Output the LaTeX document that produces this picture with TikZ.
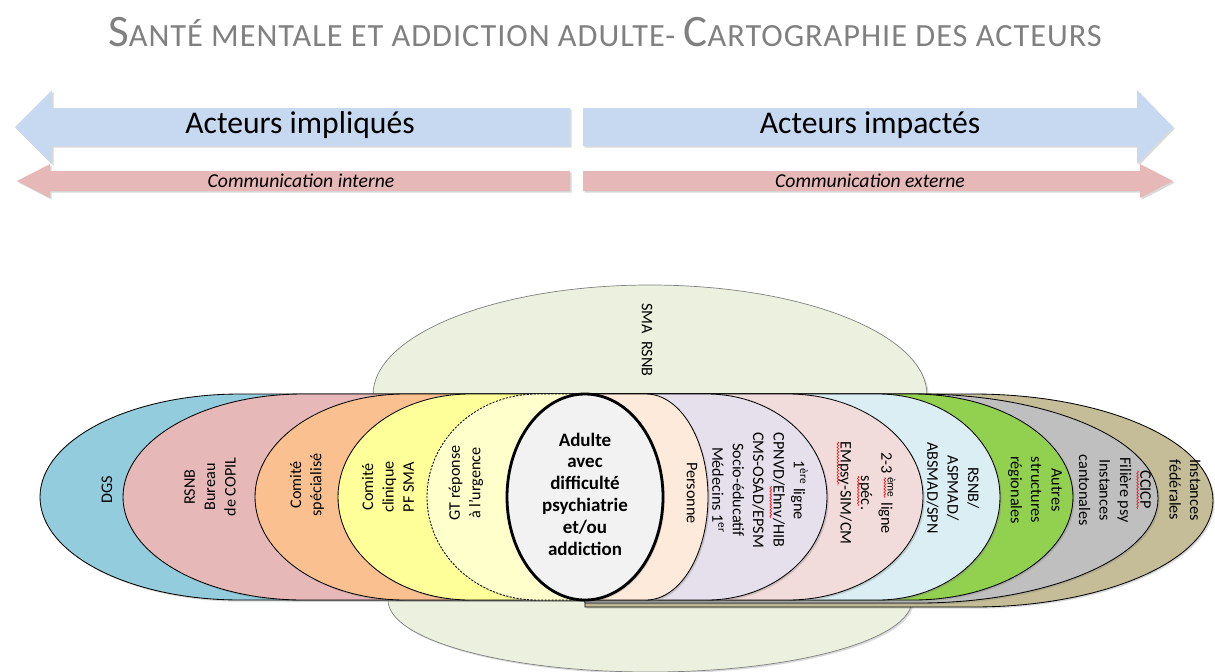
\documentclass[tikz,border=0pt]{standalone}
\usepackage{fontspec}
\setmainfont{Carlito}
\usetikzlibrary{shadows,decorations.pathmorphing}

\definecolor{titregris}{HTML}{808080}
\definecolor{flechebleu}{HTML}{C6D9F1}
\definecolor{flecherose}{HTML}{E6B9B8}
\definecolor{cDGS}{HTML}{93CDDD}
\definecolor{cRSNB}{HTML}{E6B9B8}
\definecolor{cSpec}{HTML}{FAC090}
\definecolor{cClin}{HTML}{FFFF99}
\definecolor{cGT}{HTML}{FFFFCC}
\definecolor{cAdulte}{HTML}{F2F2F2}
\definecolor{cPers}{HTML}{FDEADA}
\definecolor{cPrem}{HTML}{E5E0EC}
\definecolor{cDeux}{HTML}{F2DCDB}
\definecolor{cReseau}{HTML}{DBEEF4}
\definecolor{cAutres}{HTML}{92D050}
\definecolor{cCant}{HTML}{BFBFBF}
\definecolor{cFed}{HTML}{C4BD97}
\definecolor{cSMA}{HTML}{EBF1DE}

\newcommand{\grandcap}[1]{{\fontsize{32}{32}\selectfont #1}}
\newcommand{\petitcap}[1]{{\fontsize{23}{23}\selectfont #1}}
% soulignement rouge du correcteur
\newsavebox{\motfaux}
\newcommand{\fauteortho}[1]{\sbox{\motfaux}{#1}\rlap{\usebox{\motfaux}}%
  \tikz[reset cm,x=1pt,y=1pt,baseline=0pt]\draw[red,line width=0.4pt,decorate,decoration={snake,amplitude=0.6pt,segment length=2.2pt}] (0,-2) -- (\wd\motfaux,-2);}

\begin{document}
\begin{tikzpicture}[x=0.025cm,y=-0.025cm]
        \tikzstyle{ombre}=[drop shadow={shadow xshift=1.2pt,shadow yshift=-1.2pt,opacity=.3}]
        \tikzstyle{zone}=[draw=black,line width=0.6pt,ombre]
        \tikzstyle{gauche}=[rotate=90,align=center,font=\fontsize{11.5}{14.5}\selectfont]
        \tikzstyle{droite}=[rotate=-90,align=center,font=\fontsize{11.5}{14.5}\selectfont]
        \tikzstyle{fleche}=[ombre]
          \useasboundingbox (0,0) rectangle (1215,671);

          % titre
          \node[text=titregris,font=\addfontfeatures{LetterSpace=3}] (titre) at (605,32)
            {\grandcap{S}\petitcap{ANTÉ MENTALE ET ADDICTION ADULTE- }\grandcap{C}\petitcap{ARTOGRAPHIE DES ACTEURS}};

          % fleches du haut
          \fill[flechebleu,fleche] (570,108) -- (52,108) -- (52,90) -- (15,127) -- (52,164) -- (52,146) -- (570,146) -- cycle;
          \fill[flechebleu,fleche] (583,108) -- (1137,108) -- (1137,90) -- (1173,127) -- (1137,164) -- (1137,146) -- (583,146) -- cycle;
          \fill[flecherose,fleche] (570,171) -- (50,171) -- (50,164) -- (17,181) -- (50,198) -- (50,191) -- (570,191) -- cycle;
          \fill[flecherose,fleche] (583,171) -- (1140,171) -- (1140,164) -- (1173,181) -- (1140,198) -- (1140,191) -- (583,191) -- cycle;
          \node[font=\fontsize{22.5}{24}\selectfont] (impliques) at (300,125) {Acteurs impliqués};
          \node[font=\fontsize{22.5}{24}\selectfont] (impactes) at (870,125) {Acteurs impactés};
          \node[font=\fontsize{14}{16}\selectfont\itshape] (interne) at (301,181) {Communication interne};
          \node[font=\fontsize{14}{16}\selectfont\itshape] (externe) at (870,181) {Communication externe};

          % SMA RSNB au fond
          \draw[fill=cSMA,draw=gray,line width=0.5pt,ombre] (373,395) arc[start angle=180,end angle=360,x radius=277,y radius=110]
            -- (912,600) arc[start angle=0,end angle=180,x radius=262,y radius=72] -- cycle;
          \node[rotate=-90,font=\fontsize{11.5}{14}\selectfont] (sma) at (647,340) {SMA\ \ RSNB};

          % acteurs impliques (a gauche)
          \draw[zone,fill=cDGS] (585,394) -- (240,394) arc[start angle=270,end angle=90,x radius=200,y radius=103] -- (585,600) -- cycle;
          \draw[zone,fill=cRSNB] (585,394) -- (303,394) arc[start angle=270,end angle=90,x radius=180,y radius=103] -- (585,600) -- cycle;
          \draw[zone,fill=cSpec] (585,394) -- (405,394) arc[start angle=270,end angle=90,x radius=150,y radius=103] -- (585,600) -- cycle;
          \draw[zone,fill=cClin] (585,394) -- (470,394) arc[start angle=270,end angle=90,x radius=132,y radius=103] -- (585,600) -- cycle;
          \draw[zone,fill=cGT,dash pattern=on 1.5pt off 1pt] (585,394) -- (537,394) arc[start angle=270,end angle=90,x radius=110,y radius=103] -- (585,600) -- cycle;

          % acteurs impactes (a droite)
          \draw[zone,fill=cFed] (585,394) -- (973,394) arc[start angle=-90,end angle=90,x radius=240,y radius=106.5] -- (585,607) -- cycle;
          \draw[zone,fill=cCant] (585,394) -- (918,394) arc[start angle=-90,end angle=90,x radius=240,y radius=104.5] -- (585,603) -- cycle;
          \draw[zone,fill=cAutres] (585,394) -- (913,394) arc[start angle=-90,end angle=90,x radius=160,y radius=103] -- (585,600) -- cycle;
          \draw[zone,fill=cReseau] (585,394) -- (878,394) arc[start angle=-90,end angle=90,x radius=122,y radius=103] -- (585,600) -- cycle;
          \draw[zone,fill=cDeux] (585,394) -- (788,394) arc[start angle=-90,end angle=90,x radius=135,y radius=103] -- (585,600) -- cycle;
          \draw[zone,fill=cPrem] (585,394) -- (707,394) arc[start angle=-90,end angle=90,x radius=120,y radius=103] -- (585,600) -- cycle;
          \draw[zone,fill=cPers] (585,394) -- (646,394) arc[start angle=-90,end angle=90,x radius=62,y radius=103] -- (585,600) -- cycle;

          % au centre
          \draw[fill=cAdulte,draw=black,line width=2pt,ombre] (585,497) ellipse[x radius=78,y radius=103];
          \node[align=center,font=\fontsize{13.5}{15.5}\selectfont\bfseries] (adulte) at (585,494)
            {Adulte\\avec\\difficulté\\psychiatrie\\et/ou\\addiction};

          % textes
          \node[gauche] (dgs) at (107,490) {DGS};
          \node[gauche] (rsnb) at (210,487) {RSNB\\Bureau\\de COPIL};
          \node[gauche] (specialise) at (307,485) {Comité\\spécialisé};
          \node[gauche] (clinique) at (388,487) {Comité\\clinique\\PF SMA};
          \node[gauche] (urgence) at (466,483) {GT réponse\\à l’urgence};
          \node[droite] (personne) at (692,493) {Personne};
          \node[droite] (premiere) at (760,490) {1\textsuperscript{ère} ligne\\CPNVD/\fauteortho{Ehnv}/HIB\\CMS-OSAD/EPSM\\Socio-éducatif\\Médecins 1\textsuperscript{er}};
          \node[droite] (deuxieme) at (866,493) {2-3 \textsuperscript{\fauteortho{ème}} ligne\\\fauteortho{spéc}.\\\fauteortho{EMpsy}-SIM/CM};
          \node[droite] (reseau) at (953,488) {RSNB/\\ASPMAD/\\ABSMAD/SPN};
          \node[droite] (autres) at (1035,490) {Autres\\structures\\régionales};
          \node[droite] (cantonales) at (1115,490) {\fauteortho{CCICP}\\Filière psy\\Instances\\cantonales};
          \node[droite] (federales) at (1185,490) {Instances\\fédérales};
      \end{tikzpicture}
\end{document}
